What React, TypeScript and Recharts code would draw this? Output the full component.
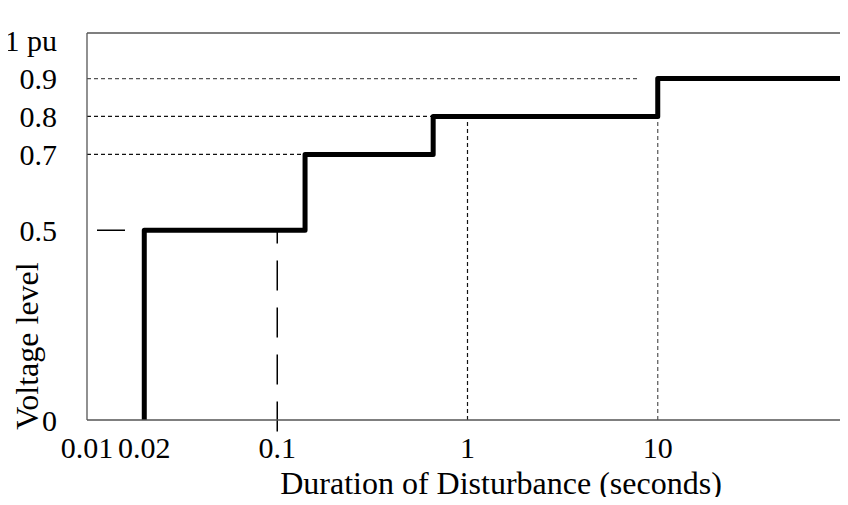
import { LineChart, Line, XAxis, YAxis, ReferenceLine, Label } from "recharts";

// step curve of the voltage tolerance (seconds, pu)
const durations = [0.02, 0.02, 0.14, 0.66, 10, 100];
const levels = [0, 0.5, 0.7, 0.8, 0.9, 0.9];

const xTicks = [0.01, 0.02, 0.1, 1, 10];
const yTicks = [0, 0.5, 0.7, 0.8, 0.9, 1];

// guide lines: level dashes run from the axis to the step
const guideLevels = [0.9, 0.8, 0.7];
const guideEnds = [8, 0.66, 0.14];
const guideTimes = [1, 10];

const data = durations.map((t, i) => ({ t, level: levels[i] }));

const Y_MAX = 1.02;
const FONT = "'Liberation Serif', 'Times New Roman', serif";
const tickStyle = { fill: "#000", fontSize: 30, fontFamily: FONT };

export default function App() {
  return (
    <div style={{ margin: -8, width: 848, height: 505, overflow: "hidden", background: "#fff", fontFamily: FONT }}>
      <LineChart width={848} height={505} data={data} margin={{ top: 33, right: 0, bottom: 0, left: 0 }}>
        <XAxis
          dataKey="t"
          type="number"
          scale="log"
          domain={[0.01, 100]}
          allowDataOverflow
          ticks={xTicks}
          interval={0}
          tickFormatter={(v) => String(v)}
          tick={tickStyle}
          tickLine={false}
          tickSize={0}
          tickMargin={17}
          height={85}
          axisLine={{ stroke: "#555", strokeWidth: 1.3 }}
        >
          <Label
            content={() => (
              <text x={501} y={494} textAnchor="middle" fontSize={32} fontFamily={FONT} fill="#000">
                Duration of Disturbance (seconds)
              </text>
            )}
          />
        </XAxis>
        <YAxis
          type="number"
          domain={[0, Y_MAX]}
          allowDataOverflow
          ticks={yTicks}
          interval={0}
          tickFormatter={(v) => (v === 1 ? "1 pu" : String(v))}
          tick={tickStyle}
          tickLine={false}
          tickSize={0}
          tickMargin={30}
          width={87}
          axisLine={{ stroke: "#555", strokeWidth: 1.3 }}
        >
          <Label
            content={() => (
              <text transform="translate(38,346) rotate(-90)" textAnchor="middle" fontSize={32} fontFamily={FONT} fill="#000">
                Voltage level
              </text>
            )}
          />
        </YAxis>

        {/* top frame line */}
        <ReferenceLine y={Y_MAX} stroke="#555" strokeWidth={1.3} ifOverflow="visible" />

        {guideLevels.map((lv, i) => (
          <ReferenceLine
            key={"h" + lv}
            segment={[
              { x: 0.01, y: lv },
              { x: guideEnds[i], y: lv },
            ]}
            stroke={i === 0 ? "#555" : "#111"}
            strokeWidth={1.2}
            strokeDasharray="4 3"
          />
        ))}
        {guideTimes.map((t, i) => (
          <ReferenceLine
            key={"v" + t}
            segment={[
              { x: t, y: 0 },
              { x: t, y: 0.8 },
            ]}
            stroke={i === 1 ? "#555" : "#111"}
            strokeWidth={1.2}
            strokeDasharray="4 3"
          />
        ))}
        <ReferenceLine
          segment={[
            { x: 0.01, y: 0.5 },
            { x: 0.02, y: 0.5 },
          ]}
          stroke="#000"
          strokeWidth={1.5}
          strokeDasharray="28 18"
          strokeDashoffset={36}
        />
        <ReferenceLine
          segment={[
            { x: 0.1, y: -0.03 },
            { x: 0.1, y: 0.5 },
          ]}
          ifOverflow="visible"
          stroke="#000"
          strokeWidth={1.5}
          strokeDasharray="30 17"
        />

        <Line
          type="stepAfter"
          dataKey="level"
          stroke="#000"
          strokeWidth={5}
          strokeLinejoin="round"
          dot={false}
          isAnimationActive={false}
        />
      </LineChart>
    </div>
  );
}
